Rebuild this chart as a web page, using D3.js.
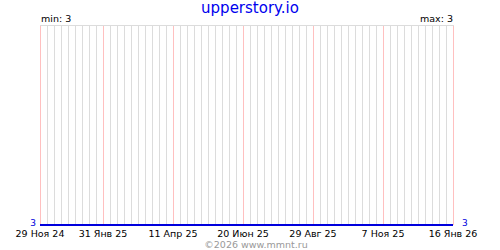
<!DOCTYPE html>
<html>
<head>
<meta charset="utf-8">
<script src="https://cdn.jsdelivr.net/npm/d3@7"></script>
<style>
  body { margin: 0; background: #fff; }
  svg text { font-family: "DejaVu Sans", sans-serif; }
</style>
</head>
<body>
<div id="chart"></div>
<script>
// series: value stays flat over the whole period
const seriesDates = ["2024-11-29", "2026-01-16"];
const seriesValues = [3, 3];

// labelled dates on the x axis
const tickDates = ["2024-11-29", "2025-01-31", "2025-04-11", "2025-06-20", "2025-08-29", "2025-11-07", "2026-01-16"];

const title = "upperstory.io";
const credit = "\u00a92026 www.mmnt.ru";

const width = 500, height = 250;
const margin = { top: 25, right: 47, bottom: 25, left: 40 };

const ru = d3.timeFormatLocale({
    dateTime: "%A, %e %B %Y г. %X",
    date: "%d.%m.%Y",
    time: "%H:%M:%S",
    periods: ["AM", "PM"],
    days: ["воскресенье", "понедельник", "вторник", "среда", "четверг", "пятница", "суббота"],
    shortDays: ["вс", "пн", "вт", "ср", "чт", "пт", "сб"],
    months: ["января", "февраля", "марта", "апреля", "мая", "июня", "июля", "августа", "сентября", "октября", "ноября", "декабря"],
    shortMonths: ["Янв", "Фев", "Мар", "Апр", "Май", "Июн", "Июл", "Авг", "Сен", "Окт", "Ноя", "Дек"]
});
const fmt = ru.utcFormat("%-d %b %y");
const parse = d3.utcParse("%Y-%m-%d");

const data = seriesDates.map((d, i) => ({ date: parse(d), value: seriesValues[i] }));
const ticks = tickDates.map(parse);

const svg = d3.select("#chart").append("svg")
    .attr("width", width)
    .attr("height", height);

const x = d3.scaleUtc()
    .domain([ticks[0], ticks[ticks.length - 1]])
    .range([margin.left, width - margin.right]);

const vmin = d3.min(seriesValues), vmax = d3.max(seriesValues);
const y = d3.scaleLinear()
    .domain([vmin, vmax === vmin ? vmin + 1 : vmax])
    .range([height - margin.bottom, margin.top]);

// weekly grid
const weekly = d3.range(0, Math.round((ticks[ticks.length - 1] - ticks[0]) / 864e5) + 1, 7)
    .map(n => d3.utcDay.offset(ticks[0], n));

svg.append("g")
    .selectAll("line")
    .data(weekly)
    .join("line")
    .attr("x1", d => Math.round(x(d)) + 0.5)
    .attr("x2", d => Math.round(x(d)) + 0.5)
    .attr("y1", margin.top)
    .attr("y2", height - margin.bottom)
    .attr("stroke", "#dcdcdc")
    .attr("stroke-width", 1);

svg.append("g")
    .selectAll("line")
    .data(ticks)
    .join("line")
    .attr("x1", d => Math.round(x(d)) + 0.5)
    .attr("x2", d => Math.round(x(d)) + 0.5)
    .attr("y1", margin.top)
    .attr("y2", height - margin.bottom)
    .attr("stroke", "#ffc0c0")
    .attr("stroke-width", 1);

// top border
svg.append("line")
    .attr("x1", margin.left)
    .attr("x2", Math.round(x(ticks[ticks.length - 1])) + 1)
    .attr("y1", margin.top + 0.5)
    .attr("y2", margin.top + 0.5)
    .attr("stroke", "#dcdcdc");

// the series line
svg.append("path")
    .datum(data)
    .attr("fill", "none")
    .attr("stroke", "#0000dd")
    .attr("stroke-width", 2)
    .attr("d", d3.line().x(d => x(d.date)).y(d => y(d.value)));

// x labels
svg.append("g")
    .selectAll("text")
    .data(ticks)
    .join("text")
    .attr("x", d => x(d))
    .attr("y", 237)
    .attr("text-anchor", "middle")
    .attr("font-size", 9.5)
    .attr("fill", "#000")
    .text(d => fmt(d));

// value labels at both ends
svg.append("text")
    .attr("x", margin.left - 4)
    .attr("y", y(seriesValues[0]) + 1)
    .attr("text-anchor", "end")
    .attr("font-size", 9)
    .attr("fill", "#0000dd")
    .text(seriesValues[0]);

svg.append("text")
    .attr("x", width - margin.right + 9)
    .attr("y", y(seriesValues[seriesValues.length - 1]) + 1)
    .attr("text-anchor", "start")
    .attr("font-size", 9)
    .attr("fill", "#0000dd")
    .text(seriesValues[seriesValues.length - 1]);

svg.append("text")
    .attr("x", margin.left + 1)
    .attr("y", 22)
    .attr("font-size", 9.5)
    .attr("fill", "#000")
    .text("min: " + vmin);

svg.append("text")
    .attr("x", width - margin.right)
    .attr("y", 22)
    .attr("text-anchor", "end")
    .attr("font-size", 9.5)
    .attr("fill", "#000")
    .text("max: " + vmax);

svg.append("text")
    .attr("x", 250)
    .attr("y", 13)
    .attr("text-anchor", "middle")
    .attr("font-size", 15)
    .attr("fill", "#0000ee")
    .text(title);

svg.append("text")
    .attr("x", 256)
    .attr("y", 247.5)
    .attr("text-anchor", "middle")
    .attr("font-size", 9.5)
    .attr("fill", "#999")
    .text(credit);
</script>
</body>
</html>
